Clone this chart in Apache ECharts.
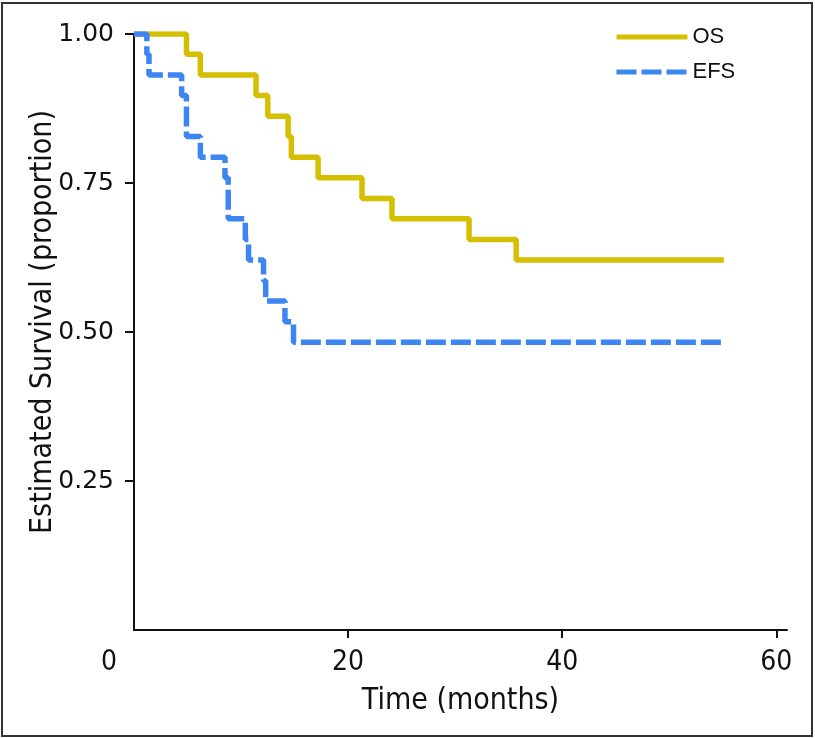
<!DOCTYPE html>
<html>
<head>
<meta charset="utf-8">
<script src="https://cdn.jsdelivr.net/npm/echarts@6/dist/echarts.min.js"></script>
<style>
  html, body { margin: 0; padding: 0; background: #fff; }
  #wrap { position: relative; width: 815px; height: 738px; }
  #chart { position: absolute; left: 0; top: 0; width: 815px; height: 738px; }
  #frame { position: absolute; left: 1px; top: 2px; width: 808px; height: 731px; border: 2px solid #333; pointer-events: none; }
</style>
</head>
<body>
<div id="wrap"><div id="chart"></div><div id="frame"></div></div>
<script>
// Kaplan-Meier step points: [time (months), survival proportion]
const osTimes = [0, 4.9, 6.2, 11.4, 12.5, 14.4, 14.7, 17.2, 21.3, 24.1, 31.3, 35.7, 55.1];
const osSurv  = [1.000, 0.966, 0.931, 0.897, 0.862, 0.828, 0.793, 0.759, 0.724, 0.690, 0.655, 0.621, 0.621];
const efsTimes = [0, 1.2, 1.4, 4.45, 4.9, 6.2, 8.5, 8.8, 10.4, 10.7, 12.1, 12.3, 14.1, 14.9, 55.1];
const efsSurv  = [1.000, 0.966, 0.931, 0.897, 0.828, 0.793, 0.759, 0.690, 0.655, 0.621, 0.586, 0.552, 0.517, 0.483, 0.483];
const xTickValues = [20, 40, 60];
const xLabelValues = [0, 20, 40, 60];
const yTickValues = [0.25, 0.5, 0.75, 1.0];
const seriesNames = ['OS', 'EFS'];

const osData = osTimes.map((t, i) => [t, osSurv[i]]);
const efsData = efsTimes.map((t, i) => [t, efsSurv[i]]);

const condensed = '"Liberation Sans Narrow", "DejaVu Sans Condensed", "Roboto Condensed", Roboto, sans-serif';
const chart = echarts.init(document.getElementById('chart'), null, { renderer: 'canvas' });
const axisLineStyle = { color: '#111', width: 2 };
chart.setOption({
  animation: false,
  backgroundColor: '#fff',
  grid: { left: 134, right: 28, top: 34, bottom: 108, containLabel: false },
  legend: {
    orient: 'vertical',
    left: 614, top: 26,
    padding: 0,
    itemWidth: 71, itemHeight: 14, itemGap: 13,
    itemStyle: { opacity: 0 },
    lineStyle: { width: 5 },
    textStyle: { fontFamily: 'Liberation Sans, Arial, sans-serif', fontSize: 22, color: '#111' },
    data: seriesNames
  },
  xAxis: {
    type: 'value', min: 0, max: 61,
    name: 'Time (months)', nameLocation: 'middle', nameGap: 56, nameMoveOverlap: false,
    nameTextStyle: { fontFamily: condensed, fontSize: 30, color: '#111' },
    axisLine: { show: true, lineStyle: axisLineStyle },
    axisTick: { show: true, length: 8, lineStyle: axisLineStyle, customValues: xTickValues },
    axisLabel: {
      customValues: xLabelValues, margin: 19,
      fontFamily: condensed, fontSize: 28, color: '#111',
      formatter: v => v === 0 ? '{o|0}' : String(v),
      rich: { o: { fontFamily: condensed, fontSize: 28, color: '#111', padding: [0, 50, 0, 0] } }
    },
    splitLine: { show: false }
  },
  yAxis: {
    type: 'value', min: 0, max: 1, interval: 0.25,
    name: 'Estimated Survival (proportion)', nameLocation: 'middle', nameGap: 76, nameMoveOverlap: false,
    nameTextStyle: { fontFamily: condensed, fontSize: 30, color: '#111', padding: [0, 0, 0, 20] },
    axisLine: { show: true, lineStyle: axisLineStyle },
    axisTick: { show: true, length: 9, lineStyle: axisLineStyle, customValues: yTickValues },
    axisLabel: {
      customValues: yTickValues, margin: 20,
      fontFamily: '"DejaVu Sans", Verdana, sans-serif', fontSize: 25, color: '#111',
      formatter: v => v.toFixed(2)
    },
    splitLine: { show: false }
  },
  series: [
    {
      name: 'OS', type: 'line', step: 'end', data: osData,
      showSymbol: false, symbol: 'none', symbolSize: 0,
      lineStyle: { color: '#D4BF00', width: 5.5 },
      itemStyle: { color: '#D4BF00' }
    },
    {
      name: 'EFS', type: 'line', step: 'end', data: efsData,
      showSymbol: false, symbol: 'none', symbolSize: 0,
      lineStyle: { color: '#3D85F0', width: 5.5, type: [20, 5] },
      itemStyle: { color: '#3D85F0' }
    }
  ]
});
</script>
</body>
</html>
